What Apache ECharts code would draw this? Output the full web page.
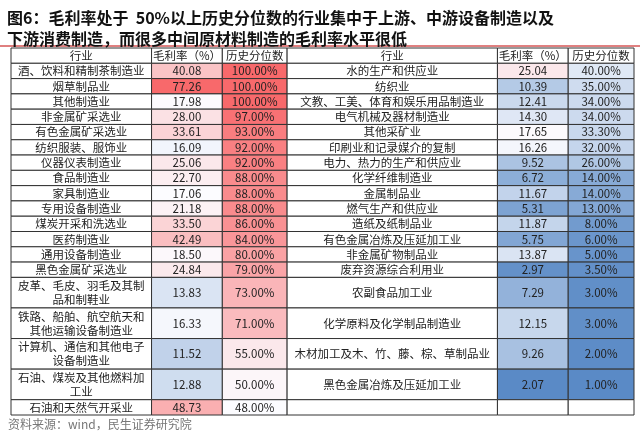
<!DOCTYPE html>
<html><head><meta charset="utf-8">
<script src="https://cdn.jsdelivr.net/npm/echarts@6/dist/echarts.min.js"></script>
<style>html,body{margin:0;background:#fff}#c{width:640px;height:442px}</style>
</head><body><div id="c"></div>
<script>
var headers = ['行业', '毛利率（%）', '历史分位数'];
var leftNames = ['酒、饮料和精制茶制造业','烟草制品业','其他制造业','非金属矿采选业','有色金属矿采选业','纺织服装、服饰业','仪器仪表制造业','食品制造业','家具制造业','专用设备制造业','煤炭开采和洗选业','医药制造业','通用设备制造业','黑色金属矿采选业','皮革、毛皮、羽毛及其制品和制鞋业','铁路、船舶、航空航天和其他运输设备制造业','计算机、通信和其他电子设备制造业','石油、煤炭及其他燃料加工业','石油和天然气开采业'];
var leftMargin = [40.08,77.26,17.98,28.00,33.61,16.09,25.06,22.70,17.06,21.18,33.50,42.49,18.50,24.84,13.83,16.33,11.52,12.88,48.73];
var leftPct = [100,100,100,97,93,92,92,88,88,88,86,84,80,79,73,71,55,50,48];
var leftUnits = [1,1,1,1,1,1,1,1,1,1,1,1,1,1,2,2,2,2,1];
var rightNames = ['水的生产和供应业','纺织业','文教、工美、体育和娱乐用品制造业','电气机械及器材制造业','其他采矿业','印刷业和记录媒介的复制','电力、热力的生产和供应业','化学纤维制造业','金属制品业','燃气生产和供应业','造纸及纸制品业','有色金属冶炼及压延加工业','非金属矿物制品业','废弃资源综合利用业','农副食品加工业','化学原料及化学制品制造业','木材加工及木、竹、藤、棕、草制品业','黑色金属冶炼及压延加工业',''];
var rightMargin = [25.04,10.39,12.41,14.30,17.65,16.26,9.52,6.72,11.67,5.31,11.87,5.75,13.87,2.97,7.29,12.15,9.26,2.07,null];
var rightPct = [40,35,34,34,33.3,32,26,14,14,13,8,6,5,3.5,3,3,2,1,null];
var rightUnits = [1,1,1,1,1,1,1,1,1,1,1,1,1,1,2,2,2,2,1];

// layout (pixel-ish column edges)
var COLS = [0,141,212,277,488,559,625];

var RED=[248,105,107], WHITE=[252,252,255], BLUE=[90,138,198];
function mix(a,b,t){return 'rgb('+a.map(function(v,i){return Math.round(v+(b[i]-v)*t);}).join(',')+')';}
function scale(v,min,mid,max){
  if(v==null) return '#fff';
  if(v>=mid) return mix(WHITE,RED,(v-mid)/(max-mid));
  return mix(WHITE,BLUE,(mid-v)/(mid-min));
}
var allM = leftMargin.concat(rightMargin).filter(function(v){return v!=null;});
var mMin=Math.min.apply(null,allM), mMax=Math.max.apply(null,allM), mMid=17;
function mColor(v){return scale(v,mMin,mMid,mMax);}
function pColor(v){return scale(v,1,48,100);}

var cells = [];
function addCell(col,y0,y1,text,fill,wrap){cells.push([col,y0,y1,text,fill,wrap?1:0]);}
for(var h=0;h<2;h++){for(var k=0;k<3;k++)addCell(h*3+k,0,1,headers[k],'#fff',0);}
function addTable(off,names,m,p,u){
  var y=1;
  for(var i=0;i<names.length;i++){
    addCell(off,y,y+u[i],names[i],'#fff',1);
    addCell(off+1,y,y+u[i],m[i]==null?'':m[i].toFixed(2),mColor(m[i]),0);
    addCell(off+2,y,y+u[i],p[i]==null?'':p[i].toFixed(2)+'%',pColor(p[i]),0);
    y+=u[i];
  }
}
addTable(0,leftNames,leftMargin,leftPct,leftUnits);
addTable(3,rightNames,rightMargin,rightPct,rightUnits);

var chart = echarts.init(document.getElementById('c'));
chart.setOption({
  animation:false,
  textStyle:{fontFamily:'Noto Sans CJK SC'},
  title:{text:'图6：毛利率处于  50%以上历史分位数的行业集中于上游、中游设备制造以及\n下游消费制造，而很多中间原材料制造的毛利率水平很低',
    left:2,top:2,textStyle:{fontSize:16,fontWeight:'bold',color:'#111',lineHeight:21,fontFamily:'Noto Sans CJK SC'}},
  graphic:[{type:'text',left:8,top:418,style:{text:'资料来源：wind，民生证券研究院',fontSize:12,fill:'#777',fontFamily:'Noto Sans CJK SC'}},
    {type:'line',shape:{x1:0,y1:46,x2:640,y2:46},style:{stroke:'#c00000',lineWidth:1}}],
  grid:{left:11,right:6,top:48,bottom:27},
  xAxis:{type:'value',min:0,max:625,show:false},
  yAxis:{type:'value',min:0,max:24,inverse:true,show:false},
  series:[{type:'custom',data:cells,renderItem:function(params,api){
    var col=api.value(0);
    var p0=api.coord([COLS[col],api.value(1)]), p1=api.coord([COLS[col+1],api.value(2)]);
    var w=p1[0]-p0[0], hgt=p1[1]-p0[1];
    var d=cells[params.dataIndex];
    return {type:'group',children:[
      {type:'rect',shape:{x:p0[0],y:p0[1],width:w,height:hgt},style:{fill:d[4],stroke:'#333',lineWidth:1}},
      {type:'text',style:{text:d[3],x:p0[0]+w/2,y:p0[1]+hgt/2,align:'center',verticalAlign:'middle',
        fontSize:11.5,fill:'#222',width:d[5]?w-6:undefined,overflow:d[5]?'break':'none',lineHeight:14,fontFamily:'Noto Sans CJK SC'}}
    ]};
  }}]
});
</script></body></html>
